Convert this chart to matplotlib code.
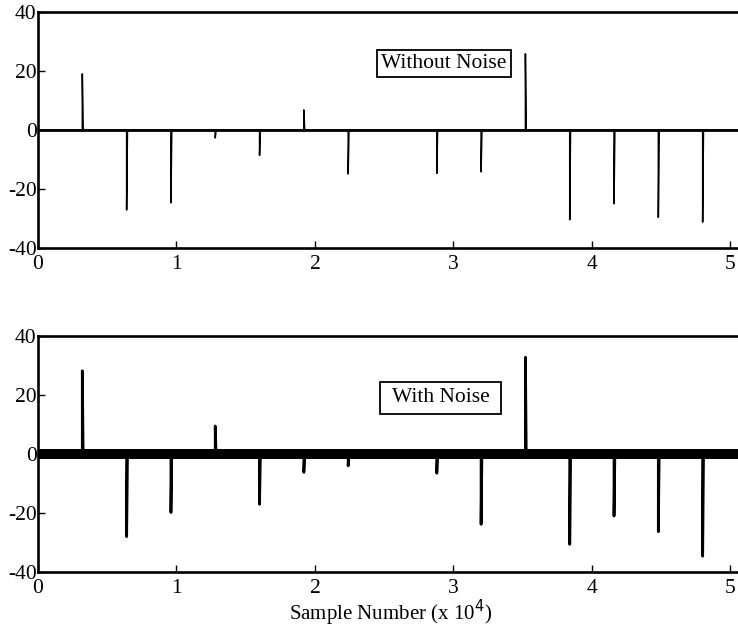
import matplotlib.pyplot as plt
import numpy as np

# =========================
# Data (x in units of 10^4 samples)
# =========================
spike_pos = [0.32, 0.64, 0.96, 1.28, 1.60, 1.92, 2.24, 2.56,
             2.88, 3.20, 3.52, 3.84, 4.16, 4.48, 4.80]

clean_peaks = [19.0, -27.1, -24.7, -2.7, -8.6, 6.8, -14.9, 0.0,
               -14.7, -14.2, 25.8, -30.4, -25.0, -29.6, -31.2]

noisy_peaks = [28.2, -28.0, -19.8, 9.5, -17.0, -6.2, -4.0, 0.0,
               -6.5, -23.8, 32.8, -30.6, -21.0, -26.3, -34.6]

noise_level = 1.8
spike_width = 0.006
x_max = 5.09

y_ticks = [-40, -20, 0, 20, 40]
x_ticks = [0, 1, 2, 3, 4, 5]

plt.rcParams["font.family"] = ["Liberation Serif", "DejaVu Serif"]
plt.rcParams["axes.unicode_minus"] = False


def spike_trace(positions, peaks):
    xs = [0.0]
    ys = [0.0]
    for p, v in zip(positions, peaks):
        xs += [p, p, p + spike_width]
        ys += [0.0, v, 0.0]
    xs.append(x_max)
    ys.append(0.0)
    return np.array(xs), np.array(ys)


def style_axes(ax):
    ax.set_xlim(0, x_max)
    ax.set_ylim(-40, 40)
    ax.set_xticks(x_ticks)
    ax.set_yticks(y_ticks)
    ax.tick_params(direction="in", length=5, width=1, labelsize=15.5)
    ax.tick_params(axis="x", pad=5)
    ax.tick_params(axis="y", pad=1)
    for side in ["left", "top", "bottom"]:
        ax.spines[side].set_linewidth(1.9)
    ax.spines["right"].set_visible(False)


fig = plt.figure(figsize=(7.38, 6.28), dpi=100)

# Top: without noise
ax1 = fig.add_axes([0.0515, 0.605, 0.955, 0.376])
x, y = spike_trace(spike_pos, clean_peaks)
ax1.plot(x, y, color="black", linewidth=1.1)
ax1.axhline(0, color="black", linewidth=2.0)
style_axes(ax1)
ax1.text(2.93, 22.5, "Without Noise", fontsize=15.5, ha="center", va="center",
         bbox=dict(boxstyle="square,pad=0.2", facecolor="white",
                   edgecolor="black", linewidth=1.3))

# Bottom: with noise
ax2 = fig.add_axes([0.0515, 0.089, 0.955, 0.376])
x, y = spike_trace(spike_pos, noisy_peaks)
ax2.fill_between([0, x_max], -noise_level, noise_level, color="black",
                 linewidth=0)
ax2.plot(x, y, color="black", linewidth=2.0)
style_axes(ax2)
ax2.text(2.91, 19.0, " With Noise ", fontsize=15.5, ha="center", va="center",
         bbox=dict(boxstyle="square,pad=0.3", facecolor="white",
                   edgecolor="black", linewidth=1.3))
ax2.set_xlabel("Sample Number (x 10$^4$)", fontsize=15, labelpad=0)

fig.savefig("out.png", dpi=100)
plt.close(fig)
